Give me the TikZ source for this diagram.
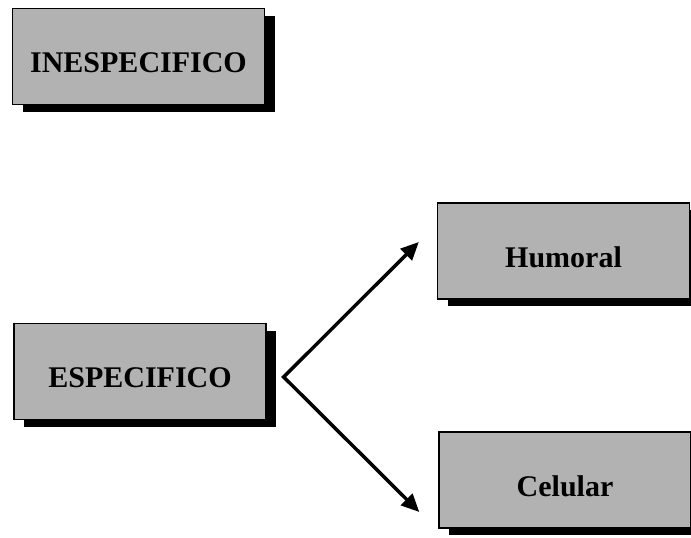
\documentclass[tikz,border=0pt]{standalone}
\usepackage{fontspec}
\setmainfont{Liberation Serif}
\usetikzlibrary{positioning,shadows,arrows.meta}

\tikzset{
  box/.style={draw=black, line width=1.4pt, fill=black!30, minimum width=252pt,
    inner xsep=0pt, inner ysep=0pt, text height=64pt, text depth=32pt,
    font=\fontsize{30}{32}\selectfont\bfseries,
    drop shadow={shadow xshift=10pt, shadow yshift=-7pt, fill=black, opacity=1}},
  link/.style={line width=3.5pt, {Triangle[length=18pt,width=16pt]}-{Triangle[length=18pt,width=16pt]}}
}

\begin{document}
\begin{tikzpicture}[x=1pt, y=-1pt]
\useasboundingbox (0,0) rectangle (691,538);
\node[box] (inesp) at (138.5,56.5) {INESPECIFICO};
\node[box] (esp) at (140,371.5) {ESPECIFICO};
\node[box] (hum) at (563.5,251) {Humoral};
\node[box] (cel) at (565,480) {Celular};
\coordinate (fork) at ([xshift=17pt,yshift=-5.5pt]esp.east);
\coordinate (humtip) at ([xshift=-18pt,yshift=9pt]hum.west);
\coordinate (celtip) at ([xshift=-19pt,yshift=-32pt]cel.west);
\draw[link] (humtip) -- (fork) -- (celtip);
\end{tikzpicture}
\end{document}
